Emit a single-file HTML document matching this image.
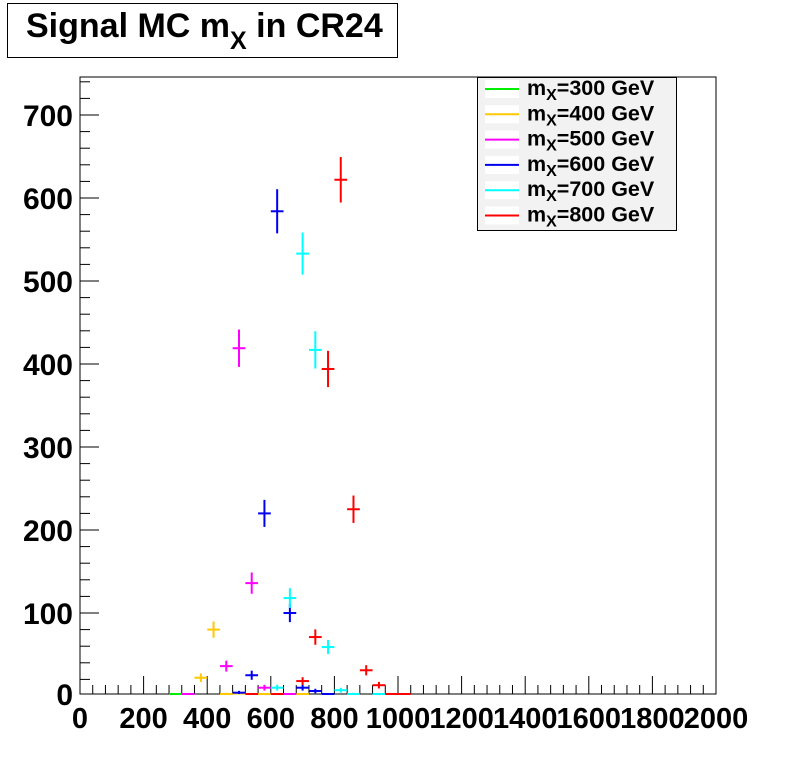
<!DOCTYPE html>
<html><head><meta charset="utf-8"><style>
body{margin:0;background:#fff;}
svg{display:block;font-family:"Liberation Sans",sans-serif;font-weight:bold;}
</style></head><body>
<svg id="chart" width="796" height="772" viewBox="0 0 796 772" xmlns="http://www.w3.org/2000/svg">
<rect x="0" y="0" width="796" height="772" fill="#fff"/>
<g>
<rect x="7.5" y="3.5" width="390" height="54" fill="#fff" stroke="#000" stroke-width="1"/>
<text x="26" y="37" font-size="34">Signal MC m<tspan font-size="25" dy="12">X</tspan><tspan dy="-12"> in CR24</tspan></text>
</g>
<g id="axes"></g>
<g id="marks"></g>
<g id="legend"></g>
</svg>
<script>
const seriesNames = ["m_X=300 GeV","m_X=400 GeV","m_X=500 GeV","m_X=600 GeV","m_X=700 GeV","m_X=800 GeV"];
const seriesColors = ["#00ee00","#ffc800","#ff00ff","#0000ee","#00ffff","#ff0000"];
const xTicks = [0,200,400,600,800,1000,1200,1400,1600,1800,2000];
const yTicks = [0,100,200,300,400,500,600,700];
const x300 = [300,340];
const v300 = [1,1];
const x400 = [380,420,460,500,540,580,700];
const v400 = [22,80,2,3,1,1,1];
const x500 = [340,460,500,540,580,660];
const v500 = [0,36,419,136,10,0];
const x600 = [500,540,580,620,660,700,740,780];
const v600 = [4,25,220,584,100,10,6,1];
const x700 = [620,660,700,740,780,820,860,940];
const v700 = [10,118,533,417,59,7,2,1];
const x800 = [540,620,700,740,780,820,860,900,940,980,1020];
const v800 = [1,1,18,71,394,622,225,31,13,0.5,0.5];
const seriesX = [x300,x400,x500,x600,x700,x800];
const seriesV = [v300,v400,v500,v600,v700,v800];

const NS="http://www.w3.org/2000/svg";
const L=80,R=716,T=77,B=694;
function xs(v){return L+(v/2000)*(R-L);}
function ys(v){return 696-v*0.83;}
function mk(tag,attrs,parent){const e=document.createElementNS(NS,tag);for(const k in attrs)e.setAttribute(k,attrs[k]);parent.appendChild(e);return e;}
const axes=document.getElementById('axes');
const frame=mk('rect',{x:L,y:T,width:R-L,height:B-T,fill:'none',stroke:'#000','stroke-width':1},axes);


for(let v=0;v<=2000;v+=40){
  const major=v%200===0;
  const t=mk('line',{x1:xs(v),x2:xs(v),y1:B,y2:B-(major?18:9),stroke:'#000','stroke-width':1},axes);
  
  
}
xTicks.forEach(v=>{
  const t=mk('text',{x:xs(v),y:728,'font-size':29,'text-anchor':'middle'},axes);
  t.textContent=v;
  
  
});
for(let v=20;v<=740;v+=20){
  const major=v%100===0;
  const yy=ys(v); if(yy<T||yy>B)continue;
  const t=mk('line',{x1:L,x2:L+(major?19:10),y1:yy,y2:yy,stroke:'#000','stroke-width':1},axes);
  
  
}
yTicks.forEach(v=>{
  const t=mk('text',{x:73,y:Math.min(ys(v),B)+11,'font-size':30,'text-anchor':'end'},axes);
  t.textContent=v;
  
  
});
const marks=document.getElementById('marks');
const hw=(xs(40)-xs(0))/2;
seriesX.forEach((xsArr,si)=>{
  const g=mk('g',{},marks);
  
  
  xsArr.forEach((xv,i)=>{
    const v=seriesV[si][i];
    const cx=xs(xv), cy=Math.min(ys(v),B);
    const err=Math.sqrt(v)*1.1*0.83;
    const h=mk('line',{x1:cx-hw,x2:cx+hw,y1:cy,y2:cy,stroke:seriesColors[si],'stroke-width':2},g);
    
    
    const vl=mk('line',{x1:cx,x2:cx,y1:Math.max(cy-err,T),y2:Math.min(cy+err,B),stroke:seriesColors[si],'stroke-width':2},g);
    
    
  });
});
const lg=document.getElementById('legend');
const box=mk('rect',{x:477.5,y:77.5,width:199,height:153,fill:'#f2f2f2',stroke:'#000','stroke-width':1},lg);


seriesNames.forEach((n,i)=>{
  const y=89+i*25.3;
  const g=mk('g',{},lg);
  
  
  mk('rect',{x:485,y:y-9,width:34,height:18,fill:'#fff'},g);
  mk('line',{x1:485,x2:519,y1:y,y2:y,stroke:seriesColors[i],'stroke-width':2},g);
  const t=mk('text',{x:527,y:y+6,'font-size':21.5},g);
  t.innerHTML='m<tspan font-size="16" dy="5">X</tspan><tspan dy="-5">'+n.slice(3)+'</tspan>';
});
</script>
</body></html>
